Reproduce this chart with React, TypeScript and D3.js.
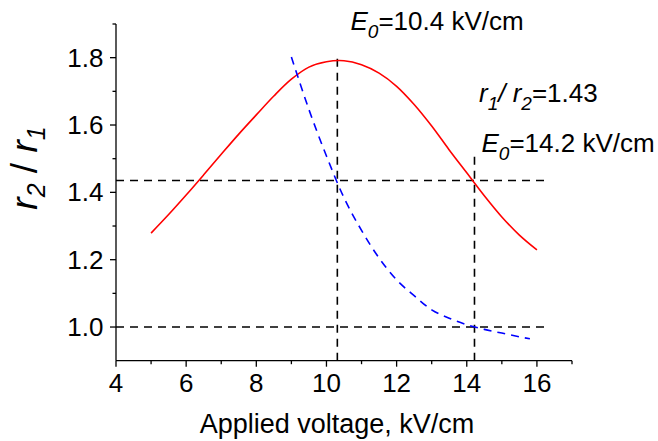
import React from "react";
import * as d3 from "d3";

const redX = [5, 5.5, 6, 6.5, 7, 7.5, 8, 8.5, 9, 9.5, 10, 10.5, 11, 11.5, 12, 12.5, 13, 13.5, 14, 14.5, 15, 15.5, 16];
const redY = [1.279, 1.334, 1.392, 1.452, 1.513, 1.573, 1.63, 1.686, 1.736, 1.772, 1.788, 1.791, 1.779, 1.754, 1.715, 1.661, 1.597, 1.526, 1.458, 1.39, 1.327, 1.273, 1.229];

const blueX = [9, 9.5, 10, 10.5, 11, 11.5, 12, 12.5, 13, 13.5, 14, 14.5, 15, 15.5, 15.8];
const blueY = [1.802, 1.646, 1.508, 1.384, 1.287, 1.205, 1.14, 1.093, 1.051, 1.026, 1.007, 0.993, 0.982, 0.971, 0.965];

const xMajor = [4, 6, 8, 10, 12, 14, 16];
const xMinor = [5, 7, 9, 11, 13, 15, 17];
const yMajor = [1.0, 1.2, 1.4, 1.6, 1.8];
const yMinor = [1.1, 1.3, 1.5, 1.7, 1.9];

const hRefs = [
  { y: 1.435, x0: 4, x1: 16.3 },
  { y: 1.0, x0: 4, x1: 16.3 },
];
const vRefs = [
  { x: 10.31, y0: 0.9, y1: 1.81 },
  { x: 14.22, y0: 0.9, y1: 1.515 },
];

const FONT = "'Liberation Sans', Arial, Helvetica, sans-serif";

export default function App() {
  const x = d3.scaleLinear().domain([4, 17]).range([116, 572]);
  const y = d3.scaleLinear().domain([0.9, 1.9]).range([360.7, 24]);

  const line = d3
    .line<[number, number]>()
    .x((d) => x(d[0]))
    .y((d) => y(d[1]))
    .curve(d3.curveCatmullRom);

  const redPath = line(redX.map((v, i) => [v, redY[i]] as [number, number])) || "";
  const bluePath = line(blueX.map((v, i) => [v, blueY[i]] as [number, number])) || "";

  const x0 = x(4);
  const yB = y(0.9);

  return (
    <svg
      width={658}
      height={441}
      style={{ position: "absolute", left: 0, top: 0, background: "#fff" }}
      fontFamily={FONT}
    >
      <rect width={658} height={441} fill="#fff" />
      {hRefs.map((h, i) => (
        <line
          key={"h" + i}
          x1={x(h.x0)}
          x2={x(h.x1)}
          y1={y(h.y)}
          y2={y(h.y)}
          stroke="#000"
          strokeWidth={1.6}
          strokeDasharray="8,6"
        />
      ))}
      {vRefs.map((v, i) => (
        <line
          key={"v" + i}
          x1={x(v.x)}
          x2={x(v.x)}
          y1={y(v.y0)}
          y2={y(v.y1)}
          stroke="#000"
          strokeWidth={1.6}
          strokeDasharray="8,6"
        />
      ))}
      <path d={redPath} fill="none" stroke="#ff0000" strokeWidth={1.6} />
      <path d={bluePath} fill="none" stroke="#0000ff" strokeWidth={1.6} strokeDasharray="8,6" />

      <line x1={x0} x2={x0} y1={y(1.9)} y2={yB} stroke="#000" strokeWidth={1.3} />
      <line x1={x0} x2={x(17)} y1={yB} y2={yB} stroke="#000" strokeWidth={1.3} />
      {xMajor.map((t) => (
        <g key={"xm" + t}>
          <line x1={x(t)} x2={x(t)} y1={yB} y2={yB + 6} stroke="#000" strokeWidth={1.3} />
          <text x={x(t)} y={392} textAnchor="middle" fontSize={26} fill="#000">
            {t}
          </text>
        </g>
      ))}
      {xMinor.map((t) => (
        <line key={"xn" + t} x1={x(t)} x2={x(t)} y1={yB} y2={yB + 3.5} stroke="#000" strokeWidth={1.3} />
      ))}
      {yMajor.map((t) => (
        <g key={"ym" + t}>
          <line x1={x0 - 6} x2={x0} y1={y(t)} y2={y(t)} stroke="#000" strokeWidth={1.3} />
          <text x={103.5} y={y(t) + 9} textAnchor="end" fontSize={26} fill="#000">
            {t.toFixed(1)}
          </text>
        </g>
      ))}
      {yMinor.map((t) => (
        <line key={"yn" + t} x1={x0 - 3.5} x2={x0} y1={y(t)} y2={y(t)} stroke="#000" strokeWidth={1.3} />
      ))}

      <text x={337} y={433} textAnchor="middle" fontSize={27} fill="#000">
        Applied voltage, kV/cm
      </text>
      <text transform="translate(37,168) rotate(-90)" textAnchor="middle" fontSize={37} fill="#000">
        <tspan fontStyle="italic">r</tspan>
        <tspan fontStyle="italic" fontSize={25} dy={8}>2</tspan>
        <tspan dy={-8}> / </tspan>
        <tspan fontStyle="italic">r</tspan>
        <tspan fontStyle="italic" fontSize={25} dy={8}>1</tspan>
      </text>

      <text x={350.5} y={30} fontSize={26} fill="#000">
        <tspan fontStyle="italic">E</tspan>
        <tspan fontStyle="italic" fontSize={19} dy={8}>0</tspan>
        <tspan dy={-8}>=10.4 kV/cm</tspan>
      </text>
      <text x={479} y={101.5} fontSize={26} fill="#000">
        <tspan fontStyle="italic">r</tspan>
        <tspan fontStyle="italic" fontSize={19} dy={8}>1</tspan>
        <tspan dy={-8} fontStyle="italic">/ r</tspan>
        <tspan fontStyle="italic" fontSize={19} dy={8}>2</tspan>
        <tspan dy={-8}>=1.43</tspan>
      </text>
      <text x={481.5} y={151.5} fontSize={26} fill="#000">
        <tspan fontStyle="italic">E</tspan>
        <tspan fontStyle="italic" fontSize={19} dy={8}>0</tspan>
        <tspan dy={-8}>=14.2 kV/cm</tspan>
      </text>
    </svg>
  );
}
